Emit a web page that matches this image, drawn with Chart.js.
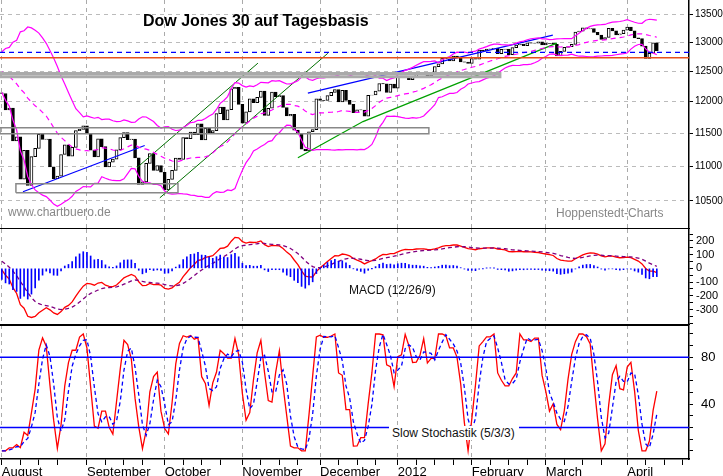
<!DOCTYPE html>
<html><head><meta charset="utf-8">
<script src="https://cdn.jsdelivr.net/npm/chart.js@4"></script>
<style>
body{margin:0;background:#fff;width:723px;height:476px;overflow:hidden;position:relative;font-family:"Liberation Sans",Arial,sans-serif}
canvas{position:absolute;left:0}
.t{position:absolute;white-space:nowrap}
</style></head><body>
<canvas id="c1" style="top:0px" width="723" height="229"></canvas>
<canvas id="c2" style="top:229px" width="723" height="96"></canvas>
<canvas id="c3" style="top:325px" width="723" height="151"></canvas>
<div class="t" style="left:143px;top:12px;font-weight:bold;font-size:16px">Dow Jones 30 auf Tagesbasis</div>
<div class="t" style="left:8px;top:205px;font-size:12px;color:#888">www.chartbuero.de</div>
<div class="t" style="left:556px;top:206px;font-size:12px;color:#888">Hoppenstedt-Charts</div>
<div class="t" style="left:349px;top:283px;font-size:12px;color:#111">MACD (12/26/9)</div>
<div class="t" style="left:389px;top:426px;font-size:12px;color:#111;background:#fff;padding:0 4px 0 3px">Slow Stochastik (5/3/3)</div>
<script>
// ---- data (daily closes, 1 Aug 2011 .. 13 Apr 2012) ----
const priorCloses = [12290,12248,12152,12090,12071,12049,12124,11952,11953,12077,11898,11962,12004,12081,12191,12110,12050,11934,12043,12188,12261,12414,
  12582,12570,12626,12719,12657,12505,12447,12492,12437,12480,12385,12588,12572,12724,12681,12593,12502,12303,12241,12143];
const closes = [
 12132,11867,11896,11384,11445,10810,11239,10720,11144,11269,11482,11406,11410,10991,10818,10855,11177,11321,11150,11285,11540,11560,11614,
 11494,11240,11140,11415,11296,10993,11062,11106,11247,11434,11510,11401,11409,11125,10734,10772,11044,11191,10939,11011,10913,
 10655,10809,10940,11124,11103,11434,11416,11519,11479,11645,11397,11578,11505,11541,11809,11913,11707,11870,12209,12232,11955,
 11658,11836,12045,11983,12069,12170,11781,11894,12154,12079,12096,11906,11771,11796,11548,11494,11258,11232,11524,11556,12046,
 12020,12019,12098,12150,12196,11997,12184,12021,11955,11824,11869,11866,11766,12103,12108,12170,12295,12291,12151,12288,12218,
 12398,12418,12416,12360,12393,12462,12450,12471,12422,12482,12579,12624,12720,12709,12676,12758,12735,12660,12654,12633,
 12716,12706,12862,12845,12878,12884,12891,12801,12874,12878,12781,12904,12950,12966,12938,12985,12983,12982,13005,12952,
 12980,12978,12962,12759,12838,12907,12922,12960,13178,13194,13253,13233,13239,13170,13125,13046,13081,13241,13197,13127,13146,13212,
 13264,13199,13075,13060,12929,12716,12806,12987,12850];
const monthNames = ["August","September","October","November","December","2012","February","March","April"];
const monthStart = [0,23,44,65,86,107,127,147,169];
const priceTicks = [10500,11000,11500,12000,12500,13000,13500];
const macdTicks = [250,200,150,100,50,0,-50,-100,-150,-200,-250,-300,-350,-400];
const macdLabels = ["200","100","0","-100","-200","-300"];
const stochTicks = [40,80];
// drawn lines (index, price)
const hLineBlue = 12823, hLineOrange = 12730;
const trendBlueLow = [[5.7,10631],[38.6,11312]];
const trendBlueHigh = [[82.7,12137],[148.9,13122]];
const trendGreen1 = [[36.5,10980],[69.2,12637]];
const trendGreen2 = [[42.7,10544],[88.1,12806]];
const trendGreen3 = [[80,11128],[97.6,11682],[150,12982]];
const boxLow = [3.8,47.6,10617,10745];
const boxMid = [-0.5,115.4,11494,11587];
const boxHigh = [-0.5,134.6,12410,12461];
const histScale = 1.3;

// ---- indicators ----
const all = priorCloses.concat(closes), off = priorCloses.length, N = closes.length;
function ema(a,n){const k=2/(n+1);const e=[a[0]];for(let i=1;i<a.length;i++)e.push(a[i]*k+e[i-1]*(1-k));return e;}
const e12=ema(all,12), e26=ema(all,26);
const macd=all.map((v,i)=>e12[i]-e26[i]); const sig=ema(macd,9);
const bbU=[],bbM=[],bbL=[];
for(let i=0;i<N;i++){const j=i+off;const w=all.slice(j-19,j+1);const m=w.reduce((a,b)=>a+b)/20;
 const sd=Math.sqrt(w.reduce((a,b)=>a+(b-m)*(b-m),0)/20);bbU.push({x:i,y:m+2*sd});bbM.push({x:i,y:m});bbL.push({x:i,y:m-2*sd});}
const rawK=all.map((v,i)=>{if(i<4)return 50;const w=all.slice(i-4,i+1);const lo=Math.min(...w),hi=Math.max(...w);return hi===lo?50:(v-lo)/(hi-lo)*100;});
const sma3=a=>a.map((v,i)=>i<2?v:(a[i]+a[i-1]+a[i-2])/3);
const slowK=sma3(rawK), slowD=sma3(slowK);

const XMIN=-0.5, XMAX=185.7;
const pts = a=>a.map(p=>({x:p[0],y:p[1]}));
const box = b=>[{x:b[0],y:b[2]},{x:b[1],y:b[2]},{x:b[1],y:b[3]},{x:b[0],y:b[3]},{x:b[0],y:b[2]}];
const L=(data,color,w,dash)=>({type:'line',data,borderColor:color,borderWidth:w||1,borderDash:dash||[],pointRadius:0,tension:0,fill:false});

const candles=[];
for(let i=0;i<N;i++){const o=i===0?priorCloses[off-1]:closes[i-1];candles.push({x:i,y:[o,closes[i]],up:closes[i]>=o});}

const base = {animation:false,responsive:false,maintainAspectRatio:false,layout:{padding:0},
  plugins:{legend:{display:false},tooltip:{enabled:false}},events:[]};
const font={family:"Liberation Sans, Arial",size:10};
const noPad=s=>{s.paddingTop=0;s.paddingBottom=0;s.paddingLeft=0;s.paddingRight=0;};
function xScale(showLabels){return {type:'linear',min:XMIN,max:XMAX,offset:false,
  afterBuildTicks:s=>{const t=new Set(monthStart);if(showLabels){for(const m of monthStart)for(let k=5;k<=15;k+=5)t.add(m+k);}
    s.ticks=[...t].filter(v=>v<=XMAX).sort((a,b)=>a-b).map(v=>({value:v}));},
  grid:{offset:false,color:c=>monthStart.includes(c.tick&&c.tick.value)?'#aaa':'rgba(0,0,0,0)',drawTicks:showLabels,tickLength:6,tickColor:'#000',tickBorderDash:[]},
  border:{dash:[4,4],color:'#000',width:1.5},
  ticks:{display:showLabels,autoSkip:false,maxRotation:0,align:'start',padding:0,color:'#000',font:{family:font.family,size:13},
    callback:v=>{const k=monthStart.indexOf(v);return k>=0?monthNames[k]:'';}},
  afterFit:s=>{s.height=showLabels?17:0;noPad(s);}};}
function yScale(extra){return Object.assign({position:'right',border:{color:'#000',width:1.5},
  grid:{drawOnChartArea:false,tickLength:4,tickColor:'#000'},
  afterFit:s=>{s.width=34;noPad(s);}},extra);}

new Chart(document.getElementById('c1'),{data:{datasets:[
  L(box(boxHigh),'#aaa',3), L(box(boxMid),'#888',1.5), L(box(boxLow),'#888',1.5),
  L([{x:XMIN,y:hLineBlue},{x:XMAX,y:hLineBlue}],'#0000ff',1.2,[5,4]),
  L([{x:XMIN,y:hLineOrange},{x:XMAX,y:hLineOrange}],'#e8501a',1.5),
  L(bbU,'#ff00ff',1.2), L(bbL,'#ff00ff',1.2), L(bbM,'#ff00ff',1.2,[5,4]),
  L(pts(trendBlueLow),'#0000ff',1.2), L(pts(trendBlueHigh),'#0000ff',1.2),
  L(pts(trendGreen1),'#007000',1), L(pts(trendGreen2),'#007000',1), L(pts(trendGreen3),'#00a000',1.2),
  {type:'bar',data:candles,barThickness:3,borderWidth:1,borderSkipped:false,borderColor:'#000',
   backgroundColor:c=>c.raw&&c.raw.up?'#fff':'#000'}
 ]},options:{...base,scales:{x:xScale(false),
  y:yScale({type:'logarithmic',min:10111,max:13757,afterBuildTicks:s=>{s.ticks=priceTicks.map(v=>({value:v}));},
    ticks:{color:'#000',font,padding:2,autoSkip:false,callback:v=>String(v)},
    grid:{drawOnChartArea:true,color:'#bbb',tickLength:4,tickColor:'#000'},border:{color:'#000',width:1.5,dash:[4,4]}})}}});

new Chart(document.getElementById('c2'),{data:{datasets:[
  {type:'bar',data:closes.map((v,i)=>({x:i,y:(macd[i+off]-sig[i+off])*histScale})),barThickness:1,backgroundColor:'#0000ff'},
  L(closes.map((v,i)=>({x:i,y:sig[i+off]})),'#800080',1.3,[4,3]),
  L(closes.map((v,i)=>({x:i,y:macd[i+off]})),'#ff0000',1.3)
 ]},options:{...base,scales:{x:xScale(false),
  y:yScale({type:'linear',min:-413,max:287,afterBuildTicks:s=>{s.ticks=macdTicks.map(v=>({value:v}));},
   ticks:{color:'#000',font:{family:font.family,size:11},padding:3,autoSkip:false,
     callback:v=>{const s=String(Math.round(v));return macdLabels.includes(s)?s:'';}}})}}});

new Chart(document.getElementById('c3'),{data:{datasets:[
  L([{x:XMIN,y:80},{x:XMAX,y:80}],'#0000ff',1.5), L([{x:XMIN,y:20},{x:XMAX,y:20}],'#0000ff',1.5),
  L(closes.map((v,i)=>({x:i,y:slowD[i+off]})),'#0000ff',1.3,[4,3]),
  L(closes.map((v,i)=>({x:i,y:slowK[i+off]})),'#ff0000',1.3)
 ]},options:{...base,scales:{x:xScale(true),
  y:yScale({type:'linear',min:-7,max:107.7,afterBuildTicks:s=>{const t=[];for(let v=0;v<=100;v+=10)t.push({value:v});s.ticks=t;},
   ticks:{color:'#000',font:{family:font.family,size:13},padding:8,autoSkip:false,callback:v=>stochTicks.includes(v)?String(v):''}})}}});
</script>
<div style="position:absolute;left:0;top:324px;width:689px;height:1.5px;background:#000"></div>
</body></html>
